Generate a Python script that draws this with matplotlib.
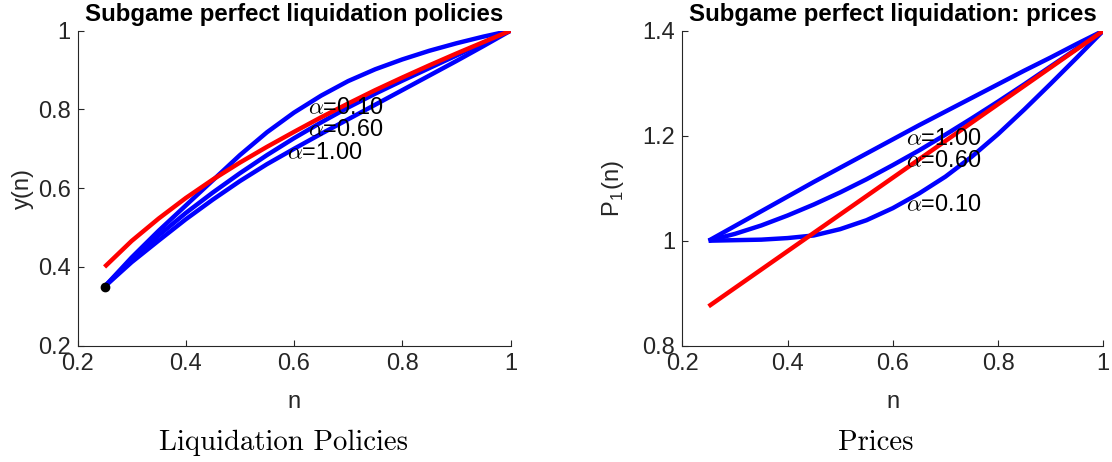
import numpy as np
import matplotlib
matplotlib.use("Agg")
import matplotlib.pyplot as plt

plt.rcParams["font.family"] = ["Liberation Sans", "DejaVu Sans"]
plt.rcParams["mathtext.fontset"] = "cm"

# ---- Liquidation policies y(n) ----
n_pol = [0.25, 0.30, 0.35, 0.40, 0.45, 0.50, 0.55, 0.60, 0.65, 0.70, 0.75, 0.80, 0.85, 0.90, 0.95, 1.00]
y_ref = [0.400, 0.466, 0.523, 0.575, 0.622, 0.665, 0.705, 0.743, 0.780, 0.815, 0.849, 0.881, 0.912, 0.942, 0.971, 1.000]
y_a010 = [0.350, 0.424, 0.492, 0.556, 0.620, 0.684, 0.742, 0.792, 0.835, 0.872, 0.902, 0.927, 0.949, 0.968, 0.985, 1.000]
y_a060 = [0.350, 0.418, 0.480, 0.537, 0.589, 0.638, 0.684, 0.727, 0.767, 0.805, 0.840, 0.873, 0.905, 0.937, 0.969, 1.000]
y_a100 = [0.350, 0.412, 0.467, 0.521, 0.571, 0.618, 0.661, 0.700, 0.738, 0.775, 0.812, 0.849, 0.886, 0.923, 0.961, 1.000]
start_point = (0.25, 0.35)

# ---- Prices P_1(n) ----
n_pr = [0.25, 0.30, 0.35, 0.40, 0.45, 0.50, 0.55, 0.60, 0.65, 0.70, 0.75, 0.80, 0.85, 0.90, 0.95, 1.00]
p_ref = [0.875, 0.910, 0.945, 0.980, 1.015, 1.050, 1.085, 1.120, 1.155, 1.190, 1.225, 1.260, 1.295, 1.330, 1.365, 1.400]
p_a100 = [1.000, 1.028, 1.056, 1.084, 1.112, 1.139, 1.166, 1.193, 1.220, 1.246, 1.272, 1.298, 1.324, 1.349, 1.375, 1.400]
p_a060 = [1.000, 1.013, 1.029, 1.048, 1.069, 1.092, 1.117, 1.144, 1.172, 1.202, 1.233, 1.265, 1.298, 1.332, 1.366, 1.400]
p_a010 = [1.000, 1.001, 1.002, 1.005, 1.010, 1.022, 1.039, 1.062, 1.090, 1.122, 1.160, 1.203, 1.250, 1.299, 1.349, 1.400]

alpha_tags = [r"$\alpha$=0.10", r"$\alpha$=0.60", r"$\alpha$=1.00"]

BLUE = "#0000ff"
RED = "#ff0000"
AX_COL = "#262626"
LW = 3.2
TICK_FS = 17

fig = plt.figure(figsize=(11.12, 4.62), dpi=100)
ax1 = fig.add_axes([77.5 / 1112, 1 - 345.7 / 462, 433 / 1112, 315 / 462])
ax2 = fig.add_axes([682.3 / 1112, 1 - 345.7 / 462, 421 / 1112, 315 / 462])


def style(ax):
    for side in ("top", "right"):
        ax.spines[side].set_visible(False)
    for side in ("left", "bottom"):
        ax.spines[side].set_color(AX_COL)
        ax.spines[side].set_linewidth(0.8)
    ax.tick_params(direction="in", length=4, width=0.8, colors=AX_COL,
                   labelsize=TICK_FS, pad=5)
    ax.xaxis.set_label_coords(0.5, -0.178)
    ax.xaxis.label.set_va("center")


def fmt(v):
    return f"{v:g}"


def curve(ax, x, y, color, z):
    ax.plot(x, y, color=color, lw=LW, solid_capstyle="butt",
            solid_joinstyle="round", zorder=z)


# Left panel: liquidation policies
for ys in (y_a010, y_a060, y_a100):
    curve(ax1, n_pol, ys, BLUE, 3)
curve(ax1, n_pol, y_ref, RED, 4)
ax1.plot(*start_point, "o", color="black", ms=6, zorder=5)
ax1.set_xlim(0.2, 1.0)
ax1.set_ylim(0.2, 1.0)
ax1.set_xticks([0.2, 0.4, 0.6, 0.8, 1.0])
ax1.set_yticks([0.2, 0.4, 0.6, 0.8, 1.0])
ax1.set_xticklabels([fmt(v) for v in ax1.get_xticks()])
ax1.set_yticklabels([fmt(v) for v in ax1.get_yticks()])
style(ax1)
ax1.set_xlabel("n", fontsize=TICK_FS, color=AX_COL)
ax1.set_ylabel("y(n)", fontsize=TICK_FS, color=AX_COL)
ax1.yaxis.set_label_coords(-0.125, 0.5)
ax1.yaxis.label.set_va("center")
ax1.set_title("Subgame perfect liquidation policies", fontsize=17.3,
              fontweight="bold", pad=7)
for (tx, ty), tag in zip([(0.626, 0.806), (0.626, 0.750), (0.587, 0.691)], alpha_tags):
    ax1.text(tx, ty, tag, fontsize=16.8, va="center", ha="left", zorder=6)

# Right panel: prices
for ps in (p_a100, p_a060, p_a010):
    curve(ax2, n_pr, ps, BLUE, 3)
curve(ax2, n_pr, p_ref, RED, 4)
ax2.set_xlim(0.2, 1.0)
ax2.set_ylim(0.8, 1.4)
ax2.set_xticks([0.2, 0.4, 0.6, 0.8, 1.0])
ax2.set_yticks([0.8, 1.0, 1.2, 1.4])
ax2.set_xticklabels([fmt(v) for v in ax2.get_xticks()])
ax2.set_yticklabels([fmt(v) for v in ax2.get_yticks()])
style(ax2)
ax2.set_xlabel("n", fontsize=TICK_FS, color=AX_COL)
ax2.set_ylabel(r"P$_{\mathregular{1}}$(n)", fontsize=TICK_FS, color=AX_COL)
ax2.yaxis.set_label_coords(-0.165, 0.5)
ax2.yaxis.label.set_va("center")
ax2.set_title("Subgame perfect liquidation: prices", fontsize=17.3,
              fontweight="bold", pad=7)
for (tx, ty), tag in zip([(0.626, 1.068), (0.626, 1.153), (0.626, 1.194)], alpha_tags):
    ax2.text(tx, ty, tag, fontsize=16.8, va="center", ha="left", zorder=6)

# Subfigure captions
fig.text(283.7 / 1112, 1 - 450 / 462, "Liquidation Policies", family="cmr10",
         fontsize=20.7, ha="center", va="baseline")
fig.text(876 / 1112, 1 - 450 / 462, "Prices", family="cmr10",
         fontsize=20.7, ha="center", va="baseline")

fig.savefig("out.png", dpi=100)
